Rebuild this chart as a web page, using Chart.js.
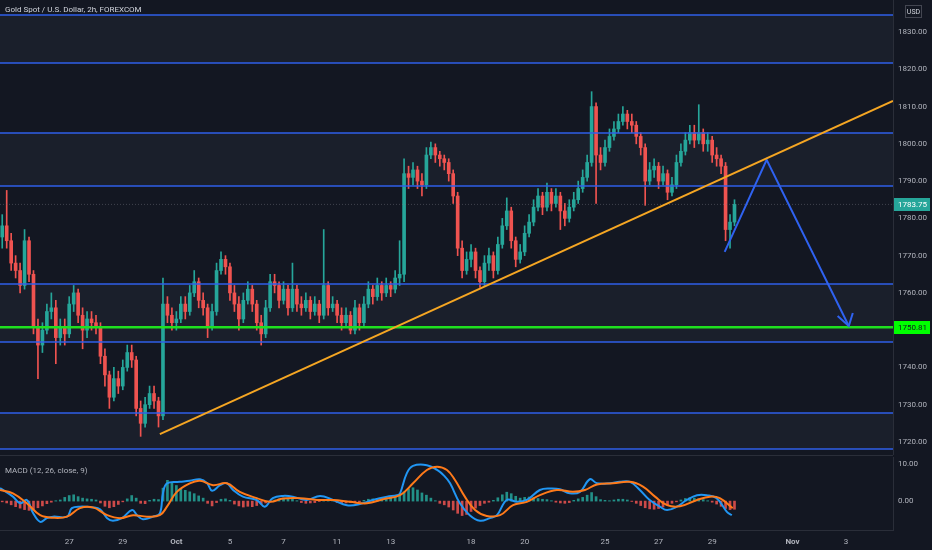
<!DOCTYPE html>
<html><head><meta charset="utf-8">
<script src="https://cdn.jsdelivr.net/npm/chart.js@4.4.0/dist/chart.umd.min.js"></script>
<style>
html,body{margin:0;padding:0;background:#131722;width:932px;height:550px;overflow:hidden;}
#wrap{position:relative;width:932px;height:550px;background:#131722;}
#c1wrap{position:absolute;left:0;top:0;width:932px;height:455px;}
#c2wrap{position:absolute;left:0;top:455px;width:932px;height:95px;}
#sep{position:absolute;left:0;top:455px;width:893px;height:1px;background:#2a2e39;}
.lbl{position:absolute;font-family:Roboto,'Noto Sans',sans-serif;font-size:8px;white-space:nowrap;line-height:10px;}
</style></head>
<body>
<div id="wrap">
  <div id="c1wrap"><canvas id="c1" width="932" height="455"></canvas></div>
  <div id="c2wrap"><canvas id="c2" width="932" height="95"></canvas></div>
  <div id="sep"></div>
  <div class="lbl" style="left:5px;top:5px;color:#d1d4dc;">Gold Spot / U.S. Dollar, 2h, FOREXCOM</div>
  <div class="lbl" style="left:5px;top:466px;color:#b2b5be;">MACD (12, 26, close, 9)</div>
</div>
<script>
// ---------- DATA ----------
const opens = [1775,1778,1774,1768,1766,1762,1774,1765,1751,1746,
1750,1755,1756,1748,1751,1749,1757,1760,1754,1750,
1753,1752,1751,1743,1738,1732,1737,1735,1740,1744,
1742,1729,1725,1730,1733,1731,1727,1757,1754,1752,
1753,1757,1755,1760,1763,1758,1756,1751,1755,1766,
1769,1767,1760,1757,1753,1758,1761,1757,1752,1749,
1756,1763,1762,1758,1761,1756,1761,1757,1756,1758,
1755,1757,1754,1762,1756,1757,1754,1752,1754,1750,
1756,1752,1757,1761,1759,1762,1760,1762,1761,1764,
1765,1792,1791,1793,1790,1789,1797,1799,1797,1796,
1795,1792,1786,1772,1766,1769,1771,1766,1763,1768,
1770,1766,1773,1778,1782,1774,1769,1771,1776,1779,
1783,1786,1783,1787,1784,1786,1782,1780,1783,1785,
1788,1791,1795,1810,1797,1795,1799,1802,1804,1806,
1808,1806,1805,1802,1799,1790,1793,1794,1790,1792,
1787,1789,1795,1798,1801,1803,1801,1803,1800,1801,
1797,1796,1794,1777,1779];
const highs = [1781,1787.5,1776,1770,1768,1777,1775,1766,1753,1752,
1757,1760,1758,1753,1753,1759,1762,1761,1756,1755,
1755,1754,1752,1745,1739,1740,1739,1742,1746,1746,
1743,1731,1732,1735,1735,1732,1764,1759,1756,1755,
1759,1759,1762,1766,1764,1760,1757,1757,1768,1771,
1770,1768,1762,1759,1760,1763,1762,1758,1754,1758,
1765,1765,1763,1763,1762,1768,1762,1759,1760,1759,
1759,1758,1777,1763,1759,1758,1756,1756,1755,1758,
1757,1759,1763,1762,1764,1763,1764,1763,1766,1774,
1796,1794,1795,1794,1792,1799,1800.5,1800,1798,1797,
1796,1793,1787,1774,1771,1773,1772,1767,1770,1772,
1771,1775,1780,1785.5,1783,1775,1773,1778,1781,1785,
1788,1787,1789.5,1788,1788,1787,1784,1785,1787,1790,
1793,1797,1814,1811,1799,1801,1804,1806,1808,1810,
1809,1808,1806,1803,1800,1795,1796,1795,1794,1793,
1791,1797,1800,1803,1805,1805,1810.5,1804,1803,1802,
1799,1797,1795,1781,1785];
const lows = [1772,1772,1766,1764,1760,1761,1763,1749,1737,1744,
1749,1753,1741,1746,1746,1748,1755,1752,1745,1748,
1750,1749,1741,1735,1729,1731,1733,1734,1739,1740,
1727,1721.5,1724,1729,1729,1724,1726,1752,1750,1750,
1752,1753,1754,1759,1756,1754,1748,1750,1754,1765,
1765,1758,1755,1750,1752,1757,1755,1750,1746,1748,
1755,1760,1756,1757,1754,1755,1755,1754,1755,1753,
1754,1752,1753,1754,1755,1752,1750,1751,1749,1749,
1750,1751,1756,1757,1758,1758,1759,1759,1760,1762,
1763,1788,1789,1788,1786,1788,1796,1795,1794,1793,
1790,1784,1770,1764,1765,1767,1764,1761.5,1762,1766,
1764,1765,1772,1777,1772,1767,1768,1770,1775,1778,
1782,1781,1782,1782,1783,1777,1778,1779,1782,1784,
1787,1790,1794,1784,1793,1794,1798,1801,1803,1805,
1804,1803,1800,1797,1783.5,1789,1791,1788,1789,1785,
1786,1788,1794,1797,1800,1799,1800,1798,1798,1795,
1794,1792,1774,1772,1778];
const closes = [1778,1774,1768,1766,1762,1774,1765,1751,1746,1750,
1755,1756,1748,1751,1749,1757,1760,1754,1750,1753,
1752,1751,1743,1738,1732,1737,1735,1740,1744,1742,
1729,1725,1730,1733,1731,1727,1757,1754,1752,1753,
1757,1755,1760,1763,1758,1756,1751,1755,1766,1769,
1767,1760,1757,1753,1758,1761,1757,1752,1749,1756,
1763,1762,1758,1761,1756,1761,1757,1756,1758,1755,
1757,1754,1762,1756,1757,1754,1752,1754,1750,1756,
1752,1757,1761,1759,1762,1760,1762,1761,1764,1765,
1792,1791,1793,1790,1789,1797,1799,1797,1796,1795,
1792,1786,1772,1766,1769,1771,1766,1763,1768,1770,
1766,1773,1778,1782,1774,1769,1771,1776,1779,1783,
1786,1783,1787,1784,1786,1782,1780,1783,1785,1788,
1791,1795,1810,1797,1795,1799,1802,1804,1806,1808,
1806,1805,1802,1799,1790,1793,1794,1790,1792,1787,
1789,1795,1798,1801,1803,1801,1803,1800,1801,1797,
1796,1794,1777,1779,1783.75];

const levelLines = [1834.6, 1821.7, 1802.9, 1788.7, 1762.4, 1746.8, 1727.8, 1718.1];
const supportLevel = 1750.81;
const lastPrice = 1783.75;
const trendX = [35.8, 200];
const trendY = [1722.1, 1811.5];
const arrowX = [162.3, 171.7, 190.1];
const arrowY = [1771.0, 1795.7, 1751.1];
const arrowHeadX = [187.6, 190.1, 191.0];
const arrowHeadY = [1753.8, 1751.1, 1754.6];
const priceTicks = [1720,1730,1740,1750,1760,1770,1780,1790,1800,1810,1820,1830];

const macdHist = [-0.2,-0.5,-1.0,-1.5,-1.9,-2.3,-2.5,-2.2,-1.8,-1.3,
-0.7,-0.3,0.1,0.3,1.0,1.5,1.7,1.2,0.8,0.6,
0.5,0.3,-0.5,-1.4,-1.8,-1.5,-0.9,-0.2,0.6,1.5,
0.8,-0.6,-0.7,0.2,0.5,0.4,3.5,5.6,5.0,4.2,
3.4,2.9,2.5,2.0,1.4,0.8,-0.6,-1.3,-0.4,0.5,
0.6,0.2,-0.8,-1.3,-1.6,-1.4,-1.5,-1.2,-0.8,-0.5,
-0.2,0.3,0.6,0.8,0.7,0.5,0.1,-0.4,-0.6,-0.5,
-0.4,-0.1,0.3,0.3,0.1,-0.4,-0.5,-0.5,-0.4,-0.3,
-0.2,0.2,0.5,0.6,0.7,0.8,0.9,0.9,1.0,1.4,
2.5,3.3,3.6,3.0,2.2,1.6,0.8,0.1,-0.6,-1.0,
-1.6,-2.4,-3.3,-3.9,-3.6,-2.8,-1.9,-1.2,-0.6,-0.3,
0.2,0.9,1.7,2.4,2.0,1.3,0.8,1.0,1.1,0.9,
0.7,0.5,0.4,0.1,-0.3,-0.5,-0.6,-0.4,0.2,0.6,
1.0,1.6,2.3,1.2,0.4,0.2,0.1,0.3,0.5,0.5,
0.3,-0.1,-0.6,-1.2,-1.8,-2.1,-2.2,-2.0,-1.6,-1.0,
-0.6,-0.2,0.3,0.7,0.9,0.8,0.6,0.4,0.1,-0.3,
-0.8,-1.4,-2.0,-2.3,-2.2];
const macdX = [0,2.9,4.5,6.0,7.4,9.0,10.5,11.9,15.0,16.1,17.9,20.8,22.4,24.0,25.3,27.3,29.6,30.7,32.0,34.3,35.8,36.5,37.4,40.3,42.5,44.8,46.4,47.5,49.3,50.8,52.2,54.4,57.5,59.3,61.1,63.4,65.6,68.7,71.7,74.6,77.7,80.6,83.5,86.7,88.9,89.6,91.1,92.5,95.6,97.9,99.5,100.8,103.0,105.2,107.5,109.7,111.3,113.5,115.8,118.0,120.9,123.2,125.4,127.6,129.9,132.1,133.7,136.6,138.8,141.1,143.3,145.5,147.8,149.4,151.6,153.8,156.1,158.3,160.5,162.8,163.9];
const macdY = [3.5,1.2,-0.6,0.3,-3.2,-5.6,-4.6,-4.2,-4.2,-1.9,-1.5,-1.7,-2.2,-4.6,-5.3,-4.6,-2.4,-3.8,-4.9,-4.2,-3.3,2.1,4.8,5.2,5.5,5.9,4.8,2.8,4.3,4.8,3.0,1.2,0.3,-1.5,0.8,1.4,1.2,0.3,1.4,0.3,-1.1,-0.8,0.3,1.2,1.6,2.1,7.5,9.5,9.7,8.4,6.8,4.8,-0.6,-3.8,-5.3,-4.6,-3.8,0.3,-0.2,0.3,3.0,3.4,3.2,2.1,2.5,5.9,4.8,4.8,5.2,5.2,3.0,0.3,-1.5,-2.4,-1.5,0.3,1.6,1.6,0.8,-2.9,-3.8];
const signalX = [0,2.9,6.0,9.0,11.9,15.0,17.9,20.8,24.0,26.9,29.8,32.9,35.8,37.4,39.6,42.5,44.8,47.7,50.8,53.7,57.5,60.5,63.4,67.2,71.0,74.6,78.4,82.2,85.8,89.6,92.5,95.6,97.9,100.1,101.9,104.1,106.4,109.0,112.0,114.9,118.0,120.9,124.7,128.3,131.0,133.7,137.3,141.1,144.0,146.7,149.4,152.3,156.1,159.0,161.2,164.1];
const signalY = [3.0,2.1,-0.6,-3.8,-4.5,-4.2,-1.9,-1.7,-3.8,-4.6,-3.8,-4.2,-3.8,-1.5,2.5,4.8,5.5,4.3,4.8,2.5,0.8,-0.2,0.7,0.8,0.3,0.3,-0.2,-0.6,0.5,1.6,4.8,8.4,9.3,8.4,5.7,1.2,-2.4,-4.0,-3.8,-1.1,-0.2,1.6,3.0,2.5,3.0,4.5,4.8,5.2,3.9,1.2,-1.1,-1.4,0.3,1.2,0.8,-1.9];
const macdTicks = [0, 10];

const timeTickPos = [15.5,27.5,39.5,51.5,63.5,75.5,87.5,105.5,117.5,135.5,147.5,159.5,177.5,189.5];
const timeTickLabels = ['27','29','Oct','5','7','11','13','18','20','25','27','29','Nov','3'];

// ---------- STYLE ----------
const FONT = "Roboto, 'Noto Sans', sans-serif";
Chart.defaults.font.family = FONT;
Chart.defaults.font.size = 8;
const UP = '#26a69a', DOWN = '#ef5350';
const X_MAX = 200;
const candleColors = closes.map((c,i)=> c >= opens[i] ? UP : DOWN);

const levelDatasets = levelLines.map((lv,i)=>({
  type:'line', data:[{x:0,y:lv},{x:X_MAX,y:lv}],
  borderColor:'#2f5fe8', borderWidth:1.5, pointRadius:0,
  fill: i%2===0 ? '+1' : false,
  backgroundColor:'rgba(120,130,160,0.075)', order:2
}));

const axisLabels = {
  id:'axisLabels',
  afterDraw(chart){
    const {ctx, chartArea:a, scales:{y}} = chart;
    function box(val, bg, fg){
      const py = Math.round(y.getPixelForValue(val));
      ctx.save();
      ctx.fillStyle = bg; ctx.fillRect(a.right+1, py-6, 36, 13);
      ctx.fillStyle = fg; ctx.font = "8px " + FONT;
      ctx.textBaseline = 'middle'; ctx.textAlign='left';
      ctx.fillText(val.toFixed(2), a.right+5, py+1);
      ctx.restore();
    }
    box(lastPrice, UP, '#ffffff');
    box(supportLevel, '#00ff00', '#131722');
    ctx.save();
    ctx.strokeStyle = '#434651'; ctx.lineWidth = 1;
    ctx.strokeRect(905.5, 5.5, 16, 12);
    ctx.fillStyle = '#d1d4dc'; ctx.font = "7px " + FONT;
    ctx.textAlign = 'center'; ctx.textBaseline = 'middle';
    ctx.fillText('USD', 913.5, 12);
    ctx.restore();
  }
};

new Chart(document.getElementById('c1'), {
  type:'bar',
  data:{ datasets:[
    ...levelDatasets,
    { type:'line', data:[{x:0,y:lastPrice},{x:X_MAX,y:lastPrice}], borderColor:'rgba(120,123,134,0.45)', borderWidth:1, borderDash:[1,2], pointRadius:0, order:3 },
    { type:'bar', data: lows.map((l,i)=>({x:i+0.5, y:[l, highs[i]]})), backgroundColor:candleColors, barThickness:1, grouped:false, order:5 },
    { type:'bar', data: opens.map((o,i)=>({x:i+0.5, y:[o, closes[i]]})), backgroundColor:candleColors, barThickness:3, grouped:false, minBarLength:1, order:4 },
    { type:'line', data:[{x:0,y:supportLevel},{x:X_MAX,y:supportLevel}], borderColor:'#1fe01f', borderWidth:2.5, pointRadius:0, order:1 },
    { type:'line', data: trendX.map((x,i)=>({x, y:trendY[i]})), borderColor:'#f5a623', borderWidth:2, pointRadius:0, order:0 },
    { type:'line', data: arrowX.map((x,i)=>({x, y:arrowY[i]})), borderColor:'#2f62f0', borderWidth:2, pointRadius:0, order:0 },
    { type:'line', data: arrowHeadX.map((x,i)=>({x, y:arrowHeadY[i]})), borderColor:'#2f62f0', borderWidth:2, pointRadius:0, order:0 }
  ]},
  options:{
    responsive:false, animation:false,
    layout:{padding:0},
    plugins:{ legend:{display:false}, tooltip:{enabled:false}, filler:{drawTime:'beforeDatasetsDraw'} },
    scales:{
      x:{ type:'linear', min:0, max:X_MAX, display:false, offset:false },
      y:{ position:'right', min:1716.5, max:1838.6,
          grid:{display:false, drawTicks:false}, border:{display:true, color:'#2a2e39'},
          afterBuildTicks:s=>{ s.ticks = priceTicks.map(v=>({value:v})); },
          afterFit:s=>{ s.width = 39; s.paddingTop = 0; s.paddingBottom = 0; },
          ticks:{ color:'#b2b5be', padding:5, font:{size:8}, callback:v=>Number(v).toFixed(2) } }
    }
  },
  plugins:[axisLabels]
});

new Chart(document.getElementById('c2'), {
  type:'bar',
  data:{ datasets:[
    { type:'bar', data: macdHist.map((v,i)=>({x:i+0.5, y:v})), backgroundColor: macdHist.map(v=> v>=0 ? 'rgba(38,166,154,0.85)' : 'rgba(239,83,80,0.85)'), barThickness:2, grouped:false, order:3 },
    { type:'line', data: signalX.map((x,i)=>({x, y:signalY[i]})), borderColor:'#ff7a1a', borderWidth:2, pointRadius:0, tension:0.4, order:1 },
    { type:'line', data: macdX.map((x,i)=>({x, y:macdY[i]})), borderColor:'#2196f3', borderWidth:2, pointRadius:0, tension:0.4, order:2 }
  ]},
  options:{
    responsive:false, animation:false,
    layout:{padding:{top:2}},
    plugins:{ legend:{display:false}, tooltip:{enabled:false} },
    scales:{
      x:{ type:'linear', min:0, max:X_MAX, offset:false,
          grid:{display:false, drawTicks:false}, border:{display:true, color:'#2a2e39'},
          afterBuildTicks:s=>{ s.ticks = timeTickPos.map(v=>({value:v})); },
          afterFit:s=>{ s.height = 20; s.paddingLeft = 0; s.paddingRight = 0; },
          ticks:{ color:'#b2b5be', autoSkip:false, maxRotation:0, padding:7,
                  font: ctx => ({ size:8, weight: (timeTickLabels[ctx.index]==='Oct'||timeTickLabels[ctx.index]==='Nov') ? 'bold' : 'normal' }),
                  callback:(v,i)=>timeTickLabels[i] } },
      y:{ position:'right', min:-7.8, max:11.9,
          grid:{display:false, drawTicks:false}, border:{display:true, color:'#2a2e39'},
          afterBuildTicks:s=>{ s.ticks = macdTicks.map(v=>({value:v})); },
          afterFit:s=>{ s.width = 39; s.paddingTop = 0; s.paddingBottom = 0; },
          ticks:{ color:'#b2b5be', padding:5, font:{size:8}, callback:v=>Number(v).toFixed(2) } }
    }
  }
});
</script>
</body></html>
